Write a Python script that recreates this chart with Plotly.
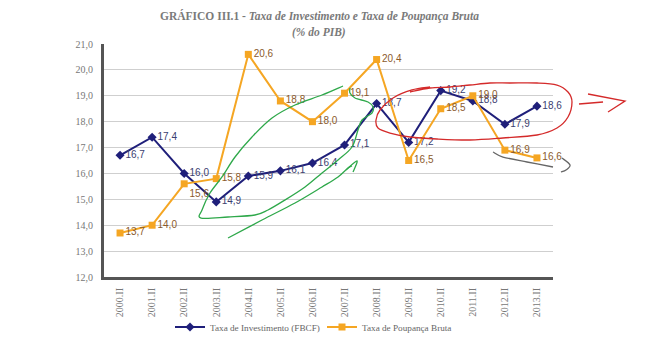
import plotly.graph_objects as go

categories = ["2000.II", "2001.II", "2002.II", "2003.II", "2004.II", "2005.II", "2006.II",
              "2007.II", "2008.II", "2009.II", "2010.II", "2011.II", "2012.II", "2013.II"]
investimento = [16.7, 17.4, 16.0, 14.9, 15.9, 16.1, 16.4, 17.1, 18.7, 17.2, 19.2, 18.8, 17.9, 18.6]
poupanca = [13.7, 14.0, 15.6, 15.8, 20.6, 18.8, 18.0, 19.1, 20.4, 16.5, 18.5, 19.0, 16.9, 16.6]

inv_pos = ["middle right"] * 14
pou_pos = ["middle right", "middle right", "bottom right"] + ["middle right"] * 11

def fmt(v):
    return f"{v:.1f}".replace(".", ",")

# page has an 8px body margin: figure is offset by OFF px
OFF = 8
PL, PR, PT, PB = 104, 553, 44, 277  # plot area in page pixels
W, H = 652 - OFF, 356 - OFF
PW, PH = PR - PL, PB - PT
L, T = PL - OFF, PT - OFF
R, B = W - L - PW, H - T - PH

def P(x, y):
    return ((x - PL) / PW, (PB - y) / PH)

def smooth_path(pts):
    q = [P(x, y) for x, y in pts]
    d = f"M {q[0][0]:.4f},{q[0][1]:.4f}"
    for i in range(len(q) - 1):
        p0 = q[i - 1] if i > 0 else q[i]
        p1 = q[i]
        p2 = q[i + 1]
        p3 = q[i + 2] if i + 2 < len(q) else q[i + 1]
        c1 = (p1[0] + (p2[0] - p0[0]) / 6, p1[1] + (p2[1] - p0[1]) / 6)
        c2 = (p2[0] - (p3[0] - p1[0]) / 6, p2[1] - (p3[1] - p1[1]) / 6)
        d += f" C {c1[0]:.4f},{c1[1]:.4f} {c2[0]:.4f},{c2[1]:.4f} {p2[0]:.4f},{p2[1]:.4f}"
    return d

# hand-drawn doodles (page pixel positions)
green_loop = [(343, 86), (322, 95), (295, 105), (272, 118), (252, 137), (235, 157), (222, 177),
              (210, 193), (202, 210), (201, 218), (228, 217), (255, 215), (268, 210), (285, 200),
              (305, 187), (322, 173), (338, 160), (352, 147), (358, 130), (362, 120), (372, 113),
              (373, 107), (368, 102), (355, 98), (350, 93), (350, 88)]
green_low = [(228, 238), (262, 220), (295, 203), (322, 187), (338, 177), (348, 168), (352, 166)]
green_hook = [(346, 170), (357, 161), (353, 172)]
red_ellipse = [(410, 92), (430, 88), (450, 87), (470, 85), (490, 83), (510, 83), (537, 83),
               (557, 85), (568, 92), (572, 102), (568, 117), (557, 128), (537, 135), (503, 138),
               (470, 140), (437, 139), (410, 137), (390, 133), (378, 128), (376, 120), (380, 110),
               (393, 98), (412, 90), (430, 87)]
red_dash = [(579, 104), (603, 102)]
red_head = [(588, 94), (625, 101), (608, 112)]
gray_bracket = [(493, 152), (503, 157), (527, 162), (553, 167)]
gray_brace = [(562, 158), (570, 165), (566, 170), (561, 172)]

shapes = []
for pts, col in [(green_loop, "#2ea84a"), (green_low, "#2ea84a"), (green_hook, "#2ea84a"),
                 (red_ellipse, "#d42a2a"), (red_dash, "#d42a2a"), (gray_bracket, "#666666"),
                 (gray_brace, "#666666")]:
    shapes.append(dict(type="path", xref="paper", yref="paper", path=smooth_path(pts),
                       line=dict(color=col, width=1.3), layer="above"))
q = [P(x, y) for x, y in red_head]
shapes.append(dict(type="path", xref="paper", yref="paper",
                   path="M " + " L ".join(f"{a:.4f},{b:.4f}" for a, b in q),
                   line=dict(color="#d42a2a", width=1.3), layer="above"))

fig = go.Figure()
fig.add_trace(go.Scatter(
    x=categories, y=investimento, name="Taxa de Investimento (FBCF)",
    mode="lines+markers+text", text=[fmt(v) for v in investimento], textposition=inv_pos,
    textfont=dict(family="Liberation Sans", size=10, color="#3b4070"),
    line=dict(color="#1f1f7a", width=2), marker=dict(symbol="diamond", size=7, color="#1f1f7a"),
    cliponaxis=False, legend="legend"))
fig.add_trace(go.Scatter(
    x=categories, y=poupanca, name="Taxa de Poupança Bruta",
    mode="lines+markers+text", text=[fmt(v) for v in poupanca], textposition=pou_pos,
    textfont=dict(family="Liberation Sans", size=10, color="#8b5a2b"),
    line=dict(color="#f5a623", width=2), marker=dict(symbol="square", size=7, color="#f5a623"),
    cliponaxis=False, legend="legend2"))

tx1, ty1 = P(319, 16)
tx2, ty2 = P(319, 32)
l1x, l1y = P(170, 327)
l2x, l2y = P(322, 327)
legfont = dict(family="Liberation Serif", size=9.2, color="#666666")

fig.update_layout(
    width=W, height=H, margin=dict(l=L, r=R, t=T, b=B, autoexpand=False),
    paper_bgcolor="white", plot_bgcolor="white",
    separators=",.",
    showlegend=True,
    legend=dict(orientation="h", x=l1x, xanchor="left", y=l1y, yanchor="middle",
                font=legfont, itemwidth=30, bgcolor="rgba(0,0,0,0)"),
    legend2=dict(orientation="h", x=l2x, xanchor="left", y=l2y, yanchor="middle",
                 font=legfont, itemwidth=30, bgcolor="rgba(0,0,0,0)"),
    shapes=shapes,
    annotations=[
        dict(text="<b>GRÁFICO III.1 - <i>Taxa de Investimento e Taxa de Poupança Bruta</i></b>",
             x=tx1, y=ty1, xref="paper", yref="paper", showarrow=False,
             xanchor="center", yanchor="middle",
             font=dict(family="Liberation Serif", size=11.5, color="#7a7a7a")),
        dict(text="<b><i>(% do PIB)</i></b>",
             x=tx2, y=ty2, xref="paper", yref="paper", showarrow=False,
             xanchor="center", yanchor="middle",
             font=dict(family="Liberation Serif", size=11.5, color="#7a7a7a")),
    ],
)
fig.update_xaxes(type="category", range=[-0.5, 13.5], showgrid=False, showline=True,
                 linecolor="#555555", linewidth=3,
                 tickangle=-90, tickfont=dict(family="Liberation Serif", size=10, color="#777777"),
                 ticks="", ticklabelstandoff=4, automargin=False)
fig.update_yaxes(range=[12, 21], dtick=1, tickformat=".1f", showgrid=True, gridcolor="#cfcfcf",
                 gridwidth=1, showline=True, linecolor="#555555", linewidth=3, zeroline=False,
                 tickfont=dict(family="Liberation Serif", size=10, color="#777777"),
                 ticks="", ticklabelstandoff=6, automargin=False)

fig.write_html("out.html")
